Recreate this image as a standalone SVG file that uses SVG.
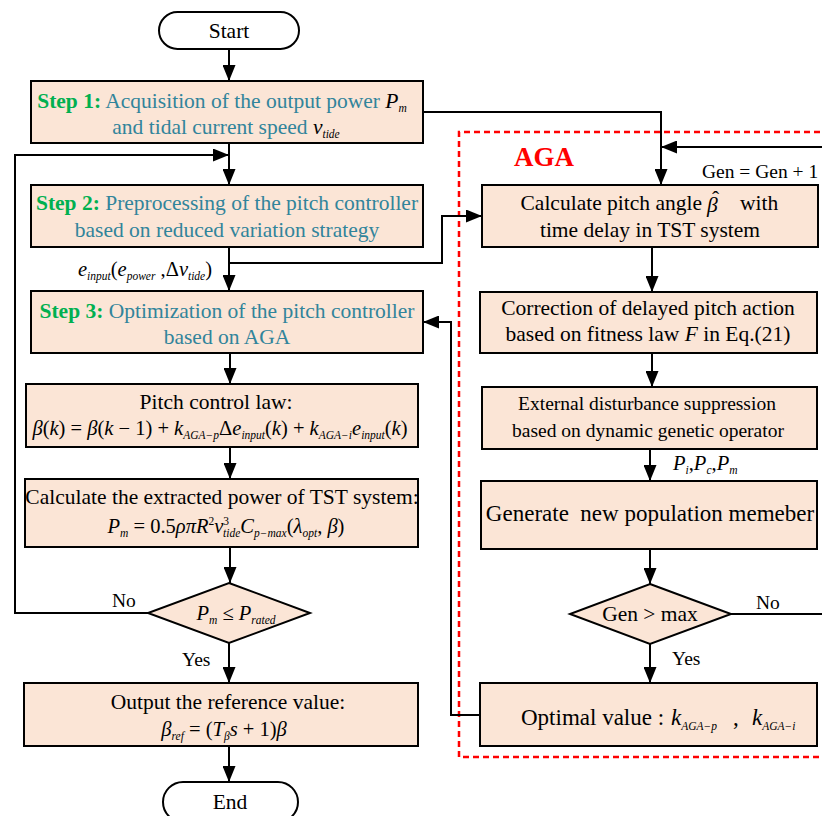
<svg xmlns="http://www.w3.org/2000/svg" width="822" height="816" viewBox="0 0 822 816">
<style>
.box{fill:#FBE5D6;stroke:#000;stroke-width:2}
.term{fill:#fff;stroke:#000;stroke-width:2}
text{font-family:"Liberation Serif","Times New Roman",Tinos,"DejaVu Serif",serif;fill:#000}
.t{font-size:21.5px}
.l{font-size:19.5px}
.f{font-size:20.5px}
.big{font-size:23px}
.tl{fill:#31849B}
.st{fill:#00B050;font-weight:bold}
.i{font-style:italic}
.sb{font-style:italic;font-size:11.5px}
.c{fill:none;stroke:#000;stroke-width:2}
.aga{fill:none;stroke:#FF0000;stroke-width:2.5;stroke-dasharray:6 4}
.agat{font-size:27px;font-weight:bold;fill:#FF0000}
</style>
<defs>
<marker id="ah" viewBox="0 0 16 13" refX="16" refY="6.5" markerWidth="16" markerHeight="13" orient="auto" markerUnits="userSpaceOnUse">
<path d="M0,0 L16,6.5 L0,13 z" fill="#000"/>
</marker>
</defs>
<rect width="822" height="816" fill="#fff"/>

<path class="aga" d="M830,132 H459 V757 H830"/>
<text class="agat" x="514" y="166">AGA</text>

<g id="connectors">
<path class="c" d="M229,49 V81" marker-end="url(#ah)"/>
<path class="c" d="M229,143 V185" marker-end="url(#ah)"/>
<path class="c" d="M148,613 H15 V155 H229" marker-end="url(#ah)"/>
<path class="c" d="M229,247 V291" marker-end="url(#ah)"/>
<path class="c" d="M229,263 H442 V216 H482" marker-end="url(#ah)"/>
<path class="c" d="M423,112 H661 V185" marker-end="url(#ah)"/>
<path class="c" d="M230,353 V384" marker-end="url(#ah)"/>
<path class="c" d="M230,447 V479" marker-end="url(#ah)"/>
<path class="c" d="M230,547 V583" marker-end="url(#ah)"/>
<path class="c" d="M229,643 V683" marker-end="url(#ah)"/>
<path class="c" d="M229,746 V782" marker-end="url(#ah)"/>
<path class="c" d="M480,715 H451 V322 H423" marker-end="url(#ah)"/>
<path class="c" d="M822,147 H661" marker-end="url(#ah)"/>
<path class="c" d="M652,247 V292" marker-end="url(#ah)"/>
<path class="c" d="M652,353 V387" marker-end="url(#ah)"/>
<path class="c" d="M650,449 V481" marker-end="url(#ah)"/>
<path class="c" d="M650,549 V584" marker-end="url(#ah)"/>
<path class="c" d="M731,614 H822"/>
<path class="c" d="M650,644 V683" marker-end="url(#ah)"/>
<text class="l" x="112" y="607">No</text>
<text class="l" x="182" y="666">Yes</text>
<text class="l" x="756" y="609">No</text>
<text class="l" x="672" y="665">Yes</text>
<text class="l" x="702" y="178">Gen = Gen + 1</text>
<text class="f" x="78" y="276"><tspan class="i">e</tspan><tspan class="sb" dy="4">input</tspan><tspan dy="-4">(</tspan><tspan class="i">e</tspan><tspan class="sb" dy="4">power</tspan><tspan dy="-4"> ,Δ</tspan><tspan class="i">v</tspan><tspan class="sb" dy="4">tide</tspan><tspan dy="-4">)</tspan></text>
<text class="f" x="673" y="470"><tspan class="i">P</tspan><tspan class="sb" dy="4">i</tspan><tspan dy="-4">,</tspan><tspan class="i">P</tspan><tspan class="sb" dy="4">c</tspan><tspan dy="-4">,</tspan><tspan class="i">P</tspan><tspan class="sb" dy="4">m</tspan></text>
</g>

<g id="start">
<rect class="term" x="159" y="12" width="140" height="37" rx="18.5"/>
<text class="t" x="229" y="38" text-anchor="middle">Start</text>
</g>

<g id="step1">
<rect class="box" x="31" y="81" width="392" height="62"/>
<text class="t" x="222" y="108" text-anchor="middle"><tspan class="st">Step 1:</tspan><tspan class="tl"> Acquisition of the output power  </tspan><tspan class="i">P</tspan><tspan class="sb" dy="4">m</tspan></text>
<text class="t" x="226" y="134" text-anchor="middle"><tspan class="tl">and tidal current speed  </tspan><tspan class="i">v</tspan><tspan class="sb" dy="4">tide</tspan></text>
</g>

<g id="step2">
<rect class="box" x="31" y="185" width="392" height="62"/>
<text class="t" x="227" y="210" text-anchor="middle"><tspan class="st">Step 2:</tspan><tspan class="tl"> Preprocessing of the pitch controller</tspan></text>
<text class="t tl" x="227" y="237" text-anchor="middle">based on reduced variation strategy</text>
</g>

<g id="step3">
<rect class="box" x="31" y="291" width="392" height="62"/>
<text class="t" x="227" y="318" text-anchor="middle"><tspan class="st">Step 3:</tspan><tspan class="tl"> Optimization of the pitch controller</tspan></text>
<text class="t tl" x="227" y="344" text-anchor="middle">based on AGA</text>
</g>

<g id="pitchlaw">
<rect class="box" x="26" y="384" width="392" height="63"/>
<text class="t" x="216" y="409" text-anchor="middle">Pitch control law:</text>
<text class="f" x="220" y="435" text-anchor="middle"><tspan class="i">β</tspan>(<tspan class="i">k</tspan>) = <tspan class="i">β</tspan>(<tspan class="i">k</tspan> − 1) + <tspan class="i">k</tspan><tspan class="sb" dy="4">AGA−p</tspan><tspan dy="-4">Δ</tspan><tspan class="i">e</tspan><tspan class="sb" dy="4">input</tspan><tspan dy="-4">(</tspan><tspan class="i">k</tspan>) + <tspan class="i">k</tspan><tspan class="sb" dy="4">AGA−i</tspan><tspan class="i" dy="-4">e</tspan><tspan class="sb" dy="4">input</tspan><tspan dy="-4">(</tspan><tspan class="i">k</tspan>)</text>
</g>

<g id="power">
<rect class="box" x="25" y="479" width="393" height="68"/>
<text class="t" x="222" y="504" text-anchor="middle">Calculate the extracted power of  TST system:</text>
<text class="f" x="226" y="533" text-anchor="middle"><tspan class="i">P</tspan><tspan class="sb" dy="4">m</tspan><tspan dy="-4"> = 0.5</tspan><tspan class="i">ρπR</tspan><tspan style="font-size:11.5px" dy="-8">2</tspan><tspan class="i" dy="8">v</tspan><tspan style="font-size:11.5px" dy="-8">3</tspan><tspan class="sb" dx="-6" dy="12">tide</tspan><tspan class="i" dy="-4">C</tspan><tspan class="sb" dy="4">p−max</tspan><tspan dy="-4">(</tspan><tspan class="i">λ</tspan><tspan class="sb" dy="4">opt</tspan><tspan dy="-4">, </tspan><tspan class="i">β</tspan>)</text>
</g>

<g id="decision1">
<polygon class="box" points="229,583 310,613 229,643 148,613"/>
<text class="f" x="236" y="620" text-anchor="middle"><tspan class="i">P</tspan><tspan class="sb" dy="4">m</tspan><tspan dy="-4"> ≤ </tspan><tspan class="i">P</tspan><tspan class="sb" dy="4">rated</tspan></text>
</g>

<g id="output">
<rect class="box" x="24" y="683" width="394" height="63"/>
<text class="t" x="228" y="709" text-anchor="middle">Output the reference value:</text>
<text class="f" x="224" y="736" text-anchor="middle"><tspan class="i">β</tspan><tspan class="sb" dy="4">ref</tspan><tspan dy="-4"> = (</tspan><tspan class="i">T</tspan><tspan class="sb" dy="4">β</tspan><tspan class="i" dy="-4">s</tspan> + 1)<tspan class="i">β</tspan></text>
</g>

<g id="end">
<rect class="term" x="163" y="782" width="135" height="40" rx="20"/>
<text class="t" x="230" y="809" text-anchor="middle">End</text>
</g>

<g id="calcpitch">
<rect class="box" x="482" y="185" width="336" height="62"/>
<text class="t" x="702" y="210" text-anchor="end">Calculate pitch angle</text>
<text class="t"><tspan class="i" x="707" y="212">β</tspan><tspan x="712" y="206">ˆ</tspan></text>
<text class="t" x="740" y="210">with</text>
<text class="t" x="650" y="237" text-anchor="middle">time delay in TST system</text>
</g>

<g id="correction">
<rect class="box" x="480" y="292" width="337" height="61"/>
<text class="t" x="648" y="315" text-anchor="middle">Correction of delayed pitch action</text>
<text class="t" x="648" y="341" text-anchor="middle">based on fitness law <tspan class="i">F</tspan>  in Eq.(21)</text>
</g>

<g id="external">
<rect class="box" x="482" y="387" width="335" height="62"/>
<text class="l" x="647" y="410" text-anchor="middle">External disturbance suppression</text>
<text class="l" x="648" y="437" text-anchor="middle">based on dynamic genetic operator</text>
</g>

<g id="generate">
<rect class="box" x="481" y="481" width="336" height="68"/>
<text class="big" x="650" y="521" text-anchor="middle" xml:space="preserve">Generate  new population memeber</text>
</g>

<g id="decision2">
<polygon class="box" points="650,584 731,614 650,644 570,614"/>
<text class="t" x="650" y="621" text-anchor="middle">Gen &gt; max</text>
</g>

<g id="optimal">
<rect class="box" x="480" y="683" width="337" height="63"/>
<text class="big" x="521" y="725">Optimal value :</text>
<text class="big" x="671" y="725"><tspan class="i">k</tspan><tspan class="sb" dy="5">AGA−p</tspan></text>
<text class="big" x="733" y="725">,</text>
<text class="big" x="752" y="725"><tspan class="i">k</tspan><tspan class="sb" dy="5">AGA−i</tspan></text>
</g>
</svg>
